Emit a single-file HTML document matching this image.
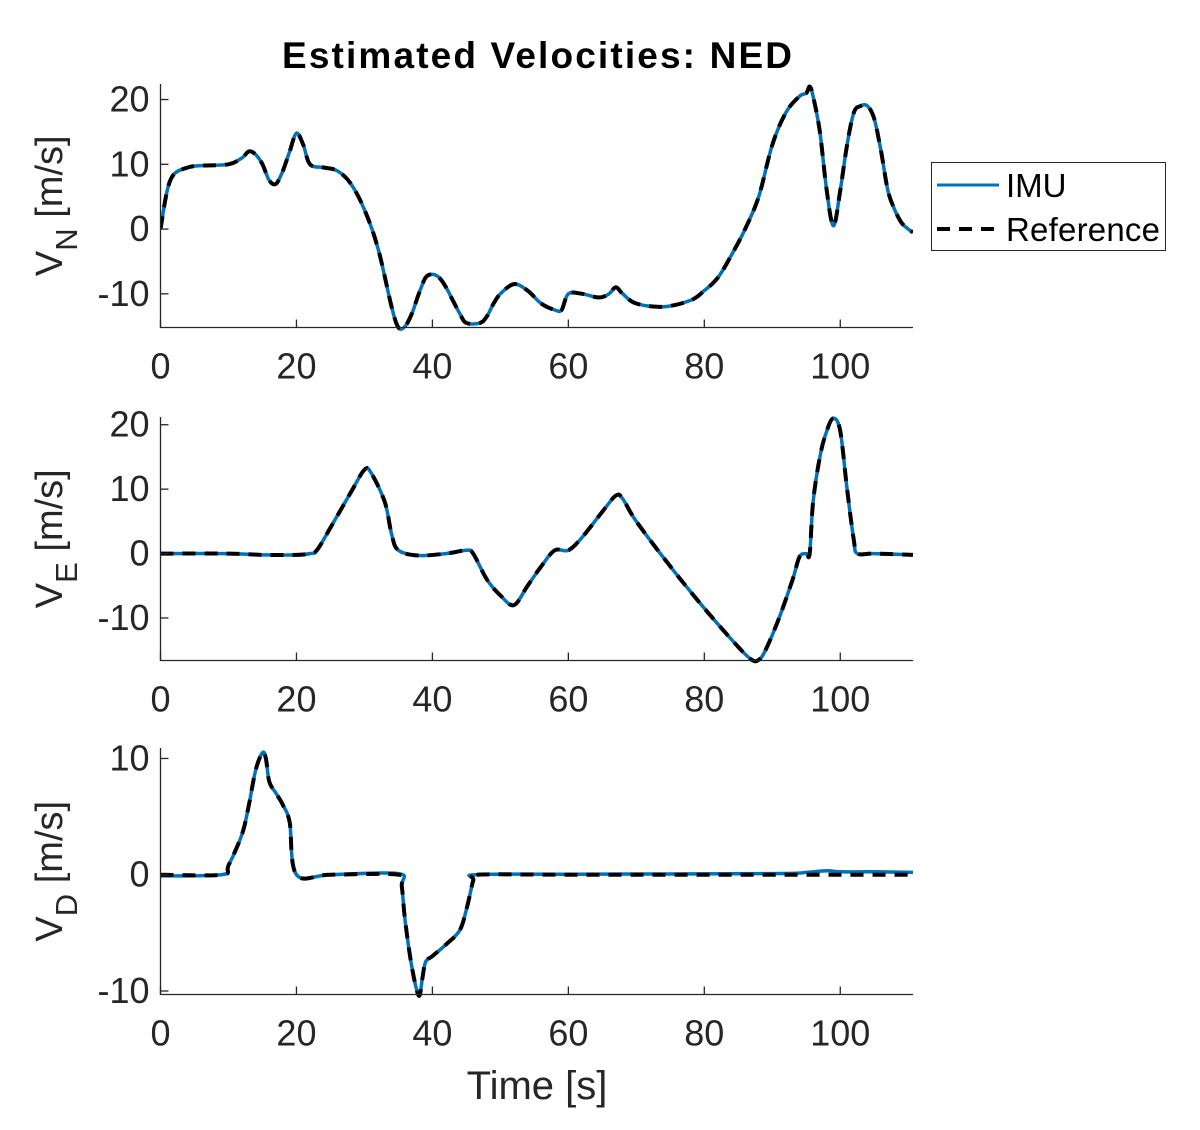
<!DOCTYPE html>
<html><head><meta charset="utf-8"><style>
html,body{margin:0;padding:0;background:#fff}
svg text{font-family:"Liberation Sans",Arial,sans-serif;fill:#262626}
</style></head><body>
<svg id="chart" width="1200" height="1125" viewBox="0 0 1200 1125" xmlns="http://www.w3.org/2000/svg">
<rect width="1200" height="1125" fill="#fff"/>
<text x="537" y="68" font-size="37" font-weight="bold" text-anchor="middle" textLength="510" style="fill:#000">Estimated Velocities: NED</text>
<g id="plots"></g>
<text x="537" y="1099" font-size="40" text-anchor="middle">Time [s]</text>
<g>
<rect x="931.5" y="162.5" width="234" height="88" fill="#fff" stroke="#262626" stroke-width="1"/>
<line x1="937" y1="185" x2="999" y2="185" stroke="#0072BD" stroke-width="3"/>
<text x="1006" y="197" font-size="33" style="fill:#000">IMU</text>
<line x1="937" y1="229" x2="999" y2="229" stroke="#000" stroke-width="4" stroke-dasharray="13,9"/>
<text x="1006" y="241" font-size="33" textLength="154" style="fill:#000">Reference</text>
</g>
</svg>
<script>
const xTicks=[0,20,40,60,80,100];
const tN=[0,1,2,4,6,10,12,13,14,15,16,17,18,19,20,21,22,24,26,28,30,32,34,35,36,37,38,39,40,41,42,44,45,47,48,49,50,52,54,56,58,59,60,62,64,65,66,67,68,70,74,78,80,82,84,86,88,90,92,94,95,95.5,96,97,98,99,100,101,102,103,104,105,106,107,108,109,110,110.7];
const vN=[0,6,8.5,9.5,9.8,10,11,12,11.5,10,7.5,7,9,12,14.8,13,10,9.5,9,7,3,-3,-12,-15.2,-15,-13,-10,-7.5,-7,-7.5,-9,-13,-14.5,-14.5,-13.5,-11.5,-10,-8.5,-9.5,-11.5,-12.5,-12.5,-10,-10,-10.5,-10.5,-10,-9,-10,-11.5,-12,-11,-9.5,-7.5,-4,0,5,13,18,20.5,21,22,20.5,15,6,0.5,6,13,18,19,19,17,12,6,3,1,0,-0.5];
const tE=[0,10,15,20,22,23,25,28,30,31,33,34,35,38,42,45,46,48,50,52,54,56,58,60,62,65,67,68,70,75,80,85,87,88,89,91,93,94,95,95.5,96,97,98,99,100,101,102,102.5,105,110.7];
const vE=[0,0,-0.2,-0.2,0,0.5,4,9.5,13,12.5,8,3,0.5,-0.3,0,0.5,0,-4,-6.5,-8,-5,-2,0.5,0.5,2.5,6.5,9,8.5,5,-2,-8.5,-14.5,-16.5,-16.5,-15,-10,-4,-0.5,0,0,8,15,19,21,19,10,2,0,0,-0.2];
const tD=[0,9,10,12,13,14,15,15.5,16,17,18,19,20,25,35,35.5,36,37,38,38.5,39,40,42,44,45,46,46.5,60,90,95,98,100,105,110.7];
const vDRef=[0,0,0.8,3.5,6,9,10.5,10,8,7,6,4.5,0,0,0,-1,-4,-8,-10.4,-9,-7.5,-7,-6,-4.8,-3,-0.5,0,0,0,0,0,0,0,0];
const vDImu=[-0.1,0,0.8,3.5,6,9,10.5,10,8,7,6,4.5,0,0,0.1,-1,-4,-8,-10.4,-9,-7.5,-7,-6,-4.8,-3,-0.5,0,0.05,0.1,0.2,0.35,0.25,0.25,0.2];
const yTicksN=[-10,0,10,20], yTicksE=[-10,0,10,20], yTicksD=[-10,0,10];
const NS="http://www.w3.org/2000/svg";
const X0=160.5,X1=913,XMAX=110.7;
function sx(t){return X0+(t/XMAX)*(X1-X0);}
const G=document.getElementById('plots');
function mk(tag,attrs,parent){const e=document.createElementNS(NS,tag);for(const k in attrs)e.setAttribute(k,attrs[k]);(parent||G).appendChild(e);return e;}
function smooth(p){
  let d='M'+p[0][0].toFixed(1)+','+p[0][1].toFixed(1);
  for(let i=0;i<p.length-1;i++){
    const p0=p[i-1]||p[i],p1=p[i],p2=p[i+1],p3=p[i+2]||p2,k=1/6;
    const c1=[p1[0]+(p2[0]-p0[0])*k,p1[1]+(p2[1]-p0[1])*k];
    const c2=[p2[0]-(p3[0]-p1[0])*k,p2[1]-(p3[1]-p1[1])*k];
    d+=' C'+c1[0].toFixed(1)+','+c1[1].toFixed(1)+' '+c2[0].toFixed(1)+','+c2[1].toFixed(1)+' '+p2[0].toFixed(1)+','+p2[1].toFixed(1);
  }
  return d;
}
function panel(name,sub,top,bot,ymin,ymax,yt,ts,imu,ref){
  const sy=v=>bot-(v-ymin)/(ymax-ymin)*(bot-top);
  const g=mk('g',{});
  
  
  const clipId='c'+name;
  const cp=mk('clipPath',{id:clipId},g);mk('rect',{x:X0,y:top-4,width:X1-X0,height:bot-top+8},cp);
  const pts=a=>ts.map((t,i)=>[sx(t),sy(a[i])]);
  const l1=mk('path',{d:smooth(pts(imu)),fill:'none',stroke:'#0072BD','stroke-width':3.5,'stroke-linejoin':'round','clip-path':'url(#'+clipId+')'},g);
  
  
  const l2=mk('path',{d:smooth(pts(ref)),fill:'none',stroke:'#000','stroke-width':4,'stroke-dasharray':'13,9','clip-path':'url(#'+clipId+')'},g);
  
  
  mk('line',{x1:X0,y1:top,x2:X0,y2:bot+0.5,stroke:'#262626','stroke-width':1.3},g);
  mk('line',{x1:X0,y1:bot,x2:X1,y2:bot,stroke:'#262626','stroke-width':1.3},g);
  xTicks.forEach(t=>{mk('line',{x1:sx(t),y1:bot,x2:sx(t),y2:bot-8,stroke:'#262626','stroke-width':1.3},g);
    const tx=mk('text',{x:sx(t),y:bot+51,'font-size':36,'text-anchor':'middle'},g);tx.textContent=t;
    
    });
  yt.forEach(v=>{mk('line',{x1:X0,y1:sy(v),x2:X0+8,y2:sy(v),stroke:'#262626','stroke-width':1.3},g);
    const tx=mk('text',{x:X0-11,y:sy(v)+12,'font-size':36,'text-anchor':'end'},g);tx.textContent=v;
    
    });
  const cy=(top+bot)/2;
  const yl=mk('text',{transform:'translate(62,'+cy+') rotate(-90)','font-size':38,'text-anchor':'middle'},g);
  
  
  const a=mk('tspan',{},yl);a.textContent='V';
  const b=mk('tspan',{dy:15,'font-size':31},yl);b.textContent=sub;
  const c=mk('tspan',{dy:-15},yl);c.textContent=' [m/s]';
}
panel('vn','N',84,327.5,-15.2,22.4,yTicksN,tN,vN,vN);
panel('ve','E',417,660.5,-16.6,21.2,yTicksE,tE,vE,vE);
panel('vd','D',748,994.5,-10.3,10.9,yTicksD,tD,vDImu,vDRef);
</script>
</body></html>
